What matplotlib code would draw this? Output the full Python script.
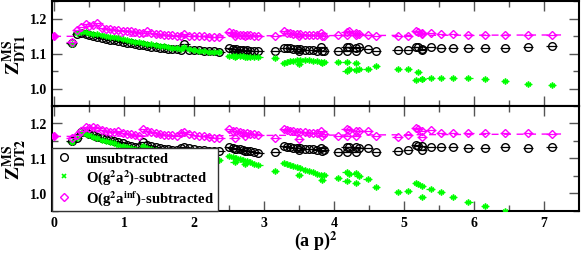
import matplotlib
matplotlib.use('Agg')
import matplotlib.pyplot as plt
from matplotlib.lines import Line2D
import numpy as np

plt.rcParams['font.family'] = ['Liberation Serif', 'DejaVu Serif']
plt.rcParams['font.weight'] = 'bold'
plt.rcParams['mathtext.fontset'] = 'stix'

# ---------------- data ----------------
ap2 = [0.25, 0.33, 0.39, 0.45, 0.50, 0.56, 0.62, 0.68, 0.74, 0.80, 0.86, 0.92, 0.98, 1.04, 1.10, 1.16, 1.22, 1.27,
       1.33, 1.39, 1.45, 1.51, 1.57, 1.63, 1.69, 1.75, 1.81, 1.86, 1.93, 2.00, 2.07, 2.14, 2.21, 2.28, 2.36,
       2.50, 2.55, 2.58, 2.60, 2.65, 2.70, 2.73, 2.75, 2.80, 2.86, 2.92, 3.16,
       3.29, 3.33, 3.37, 3.42, 3.47, 3.50, 3.52, 3.58, 3.64, 3.70, 3.76, 3.82, 3.83, 3.86, 4.06,
       4.18, 4.18, 4.22, 4.31, 4.31, 4.35, 4.48, 4.60,
       4.91, 5.06, 5.17, 5.20, 5.26, 5.26, 5.38, 5.53, 5.70, 5.92, 6.16, 6.44, 6.77, 7.11]

top_unsub = [1.131, 1.155, 1.158, 1.157, 1.152, 1.149, 1.146, 1.144, 1.142, 1.140, 1.138, 1.136, 1.133, 1.131, 1.129, 1.127, 1.125, 1.123,
             1.121, 1.119, 1.118, 1.117, 1.116, 1.114, 1.113, 1.112, 1.111, 1.126, 1.111, 1.110, 1.109, 1.108, 1.107, 1.106, 1.105,
             1.117, 1.113, 1.108, 1.112, 1.111, 1.110, 1.106, 1.109, 1.108, 1.107, 1.106, 1.106,
             1.117, 1.116, 1.115, 1.114, 1.113, 1.106, 1.112, 1.111, 1.110, 1.109, 1.108, 1.118, 1.106, 1.107, 1.107,
             1.107, 1.119, 1.119, 1.107, 1.115, 1.118, 1.113, 1.107,
             1.109, 1.110, 1.120, 1.118, 1.114, 1.109, 1.118, 1.117, 1.116, 1.116, 1.116, 1.116, 1.118, 1.121]

top_a2 = [1.128, 1.160, 1.162, 1.161, 1.159, 1.157, 1.155, 1.152, 1.150, 1.148, 1.146, 1.144, 1.141, 1.139, 1.137, 1.134, 1.132, 1.130,
          1.128, 1.126, 1.124, 1.122, 1.121, 1.119, 1.117, 1.116, 1.114, 1.118, 1.112, 1.110, 1.108, 1.106, 1.105, 1.104, 1.103,
          1.094, 1.093, 1.090, 1.093, 1.092, 1.092, 1.089, 1.091, 1.091, 1.090, 1.090, 1.087,
          1.073, 1.076, 1.078, 1.080, 1.081, 1.070, 1.082, 1.082, 1.081, 1.080, 1.079, 1.077, 1.072, 1.075, 1.075,
          1.075, 1.051, 1.056, 1.074, 1.052, 1.056, 1.056, 1.064,
          1.057, 1.055, 1.024, 1.047, 1.026, 1.028, 1.029, 1.030, 1.030, 1.029, 1.026, 1.021, 1.013, 1.009]

top_ainf = [1.133, 1.166, 1.176, 1.183, 1.178, 1.181, 1.186, 1.174, 1.171, 1.169, 1.167, 1.168, 1.165, 1.164, 1.163, 1.161, 1.160, 1.159,
            1.163, 1.160, 1.157, 1.155, 1.154, 1.153, 1.152, 1.151, 1.150, 1.156, 1.151, 1.150, 1.149, 1.149, 1.148, 1.148, 1.147,
            1.162, 1.158, 1.151, 1.156, 1.154, 1.153, 1.150, 1.152, 1.152, 1.151, 1.150, 1.151,
            1.163, 1.160, 1.158, 1.157, 1.156, 1.150, 1.155, 1.154, 1.154, 1.153, 1.152, 1.158, 1.150, 1.151, 1.152,
            1.152, 1.162, 1.163, 1.153, 1.160, 1.155, 1.152, 1.150,
            1.150, 1.150, 1.163, 1.161, 1.160, 1.155, 1.158, 1.156, 1.155, 1.154, 1.154, 1.154, 1.154, 1.154]

bot_unsub = [1.150, 1.160, 1.177, 1.175, 1.170, 1.166, 1.162, 1.158, 1.155, 1.152, 1.149, 1.146, 1.143, 1.140, 1.137, 1.134, 1.132, 1.146,
             1.140, 1.136, 1.132, 1.129, 1.127, 1.126, 1.125, 1.124, 1.131, 1.134, 1.130, 1.127, 1.125, 1.123, 1.122, 1.121, 1.120,
             1.134, 1.131, 1.126, 1.128, 1.126, 1.124, 1.120, 1.122, 1.120, 1.118, 1.117, 1.119,
             1.135, 1.134, 1.133, 1.131, 1.130, 1.124, 1.129, 1.128, 1.127, 1.126, 1.125, 1.130, 1.121, 1.123, 1.119,
             1.119, 1.133, 1.134, 1.119, 1.132, 1.131, 1.129, 1.119,
             1.121, 1.124, 1.138, 1.136, 1.137, 1.124, 1.134, 1.133, 1.132, 1.131, 1.131, 1.132, 1.131, 1.132]

bot_a2 = [1.148, 1.158, 1.172, 1.171, 1.166, 1.162, 1.158, 1.154, 1.150, 1.146, 1.143, 1.140, 1.136, 1.133, 1.130, 1.127, 1.124, 1.137,
          1.131, 1.127, 1.123, 1.120, 1.117, 1.115, 1.113, 1.111, 1.118, 1.120, 1.116, 1.112, 1.108, 1.104, 1.100, 1.097, 1.095,
          1.107, 1.104, 1.090, 1.101, 1.098, 1.095, 1.083, 1.092, 1.089, 1.085, 1.081, 1.065,
          1.088, 1.085, 1.082, 1.079, 1.075, 1.052, 1.072, 1.068, 1.065, 1.061, 1.057, 1.054, 1.038, 1.052, 1.043,
          1.036, 1.061, 1.056, 1.030, 1.058, 1.051, 1.041, 1.019,
          1.003, 1.006, 1.029, 1.026, 1.022, 0.989, 1.014, 1.003, 0.991, 0.977, 0.963, 0.949, 0.930, 0.915]

bot_ainf = [1.158, 1.166, 1.180, 1.190, 1.186, 1.189, 1.186, 1.182, 1.179, 1.177, 1.175, 1.178, 1.172, 1.170, 1.169, 1.167, 1.165, 1.184,
            1.180, 1.176, 1.173, 1.170, 1.168, 1.167, 1.166, 1.165, 1.174, 1.176, 1.171, 1.168, 1.165, 1.163, 1.161, 1.159, 1.158,
            1.183, 1.180, 1.160, 1.178, 1.176, 1.174, 1.164, 1.173, 1.171, 1.169, 1.168, 1.160,
            1.183, 1.182, 1.180, 1.178, 1.177, 1.157, 1.176, 1.175, 1.174, 1.173, 1.172, 1.178, 1.165, 1.170, 1.165,
            1.164, 1.183, 1.182, 1.164, 1.180, 1.180, 1.178, 1.164,
            1.162, 1.166, 1.186, 1.184, 1.180, 1.162, 1.181, 1.174, 1.173, 1.172, 1.172, 1.172, 1.172, 1.170]

# extrapolated (ap)^2 -> 0 value and fit line of the O(g^2 a^inf)-subtracted data
fit_x = [0.0, 7.25]
top_fit = [1.149, 1.153]
bot_fit = [1.163, 1.170]

labels = ['unsubtracted', r'O(g$^{\mathbf{2}}$a$^{\mathbf{2}}$)-subtracted',
          r'O(g$^{\mathbf{2}}$a$^{\mathbf{inf}}$)-subtracted']
ylabels = [r'$\mathbf{Z}^{\overline{\mathbf{MS}}}_{\mathbf{DT1}}$',
           r'$\mathbf{Z}^{\overline{\mathbf{MS}}}_{\mathbf{DT2}}$']
xticks = [0, 1, 2, 3, 4, 5, 6, 7]
yticks = [1.0, 1.1, 1.2]

BLACK = 'black'
GREEN = '#00ff00'
MAG = '#ff00ff'

fig = plt.figure(figsize=(5.82, 2.55), dpi=100)
W, H = 582, 255
ax1 = fig.add_axes([52 / W, 1 - 107 / H, 527 / W, 105 / H])
ax2 = fig.add_axes([52 / W, 1 - 212 / H, 527 / W, 105 / H])

seg = 0.075
for ax, yu, ya, yi, yf, yl in [(ax1, top_unsub, top_a2, top_ainf, top_fit, ylabels[0]),
                               (ax2, bot_unsub, bot_a2, bot_ainf, bot_fit, ylabels[1])]:
    ax.plot(fit_x, yf, color=MAG, lw=1.0, ls=(0, (5, 4)), zorder=1)
    ax.plot(fit_x[:1], yf[:1], marker='D', ms=4.5, color=MAG, ls='none', zorder=4)
    ax.errorbar(ap2, yu, xerr=seg, fmt='o', ms=5.5, mfc='none', mec=BLACK, mew=1.0,
                ecolor=BLACK, elinewidth=0.9, capsize=0, zorder=2)
    ax.errorbar(ap2, ya, xerr=seg * 0.8, fmt='none', ecolor=GREEN, elinewidth=0.9, capsize=0, zorder=2)
    ax.plot(ap2, ya, ls='none', marker=(6, 2, 0), ms=4.2, color=GREEN, mew=1.1, zorder=3)
    ax.errorbar(ap2, yi, xerr=seg, fmt='D', ms=4.5, mfc='none', mec=MAG, mew=1.0,
                ecolor=MAG, elinewidth=0.9, capsize=0, zorder=4)

    ax.set_xlim(-0.03, 7.5)
    ax.set_ylim(0.95, 1.25)
    ax.set_xticks(xticks)
    ax.set_xticks(np.arange(0.5, 7.5, 1.0), minor=True)
    ax.set_yticks(yticks)
    ax.set_yticks([0.95, 1.05, 1.15, 1.25], minor=True)
    ax.tick_params(which='both', direction='in', top=True, right=True, color='#555555',
                   labelcolor='black', labelsize=10)
    ax.tick_params(which='major', length=7, width=1.0)
    ax.tick_params(which='minor', length=4, width=1.0)
    for s in ax.spines.values():
        s.set_linewidth(1.5)
    ax.set_ylabel(yl, fontsize=14)
    ax.yaxis.set_label_coords(-0.046, 0.5)
    for lab in ax.get_yticklabels():
        lab.set_fontweight('bold')

ax1.tick_params(labelbottom=False)
for lab in ax2.get_xticklabels():
    lab.set_fontweight('bold')
ax2.set_xlabel(r'(a p)$^{\mathbf{2}}$', fontsize=13, fontweight='bold', labelpad=0)

handles = [Line2D([], [], ls='none', marker='o', ms=5.5, mfc='none', mec=BLACK, mew=1.0),
           Line2D([], [], ls='none', marker='x', ms=3.5, color=GREEN, mew=1.2),
           Line2D([], [], ls='none', marker='D', ms=4.5, mfc='none', mec=MAG, mew=1.0)]
leg = ax2.legend(handles, labels, loc='lower left', bbox_to_anchor=(0, 0), borderaxespad=0,
                 frameon=True, fancybox=False, edgecolor='#333333', framealpha=1,
                 handlelength=1.2, handletextpad=0.9, borderpad=0.25,
                 labelspacing=0.15, prop={'weight': 'bold', 'size': 10.5})
leg.get_frame().set_linewidth(1.0)
leg.set_zorder(10)

fig.savefig('out.png', dpi=100)
